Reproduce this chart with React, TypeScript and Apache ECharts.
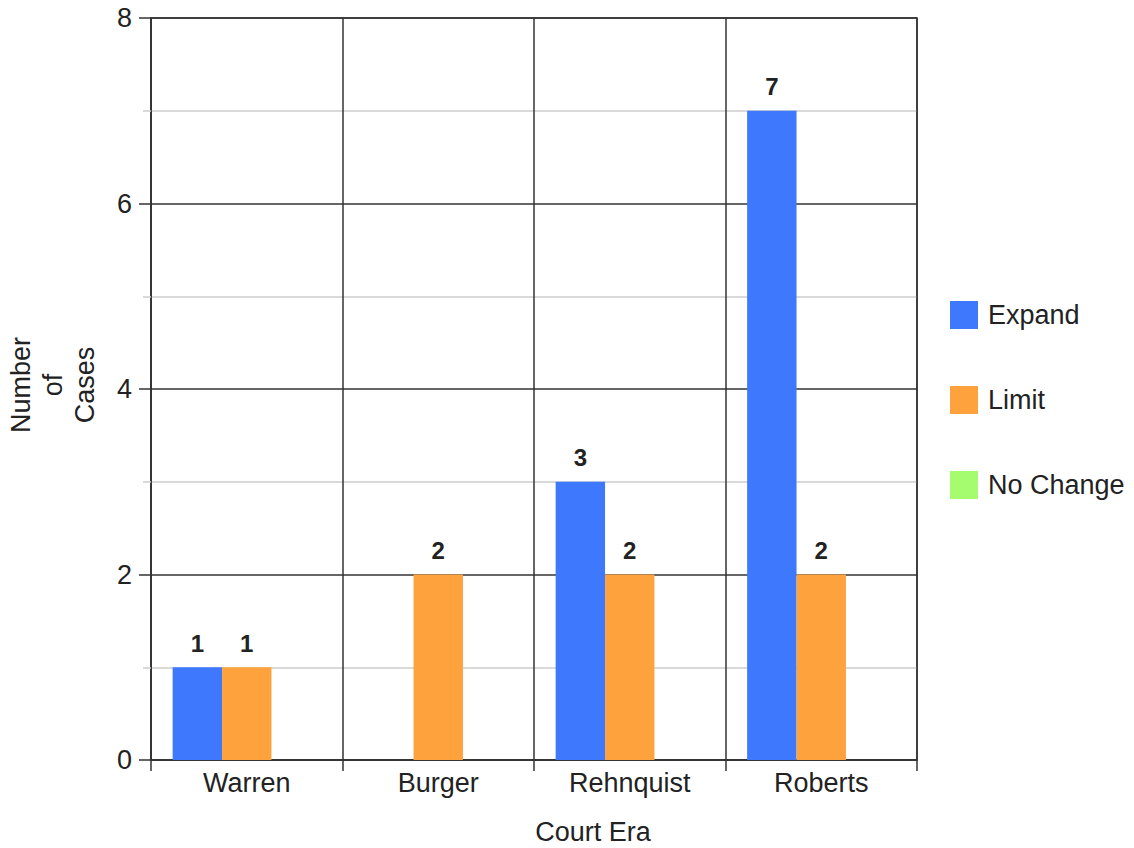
import React, { useEffect, useRef } from "react";
import * as echarts from "echarts";

const categories = ["Warren", "Burger", "Rehnquist", "Roberts"];
const expandValues = [1, 0, 3, 7];
const limitValues = [1, 2, 2, 2];
const noChangeValues = [0, 0, 0, 0];
const yTicks = [0, 2, 4, 6, 8];

const FONT = "Liberation Sans, Arial, sans-serif";
const FS = 27;

export default function App() {
  const ref = useRef<HTMLDivElement>(null);
  useEffect(() => {
    if (!ref.current) return;
    const chart = echarts.init(ref.current, undefined, { renderer: "svg" });
    const labelCfg = {
      show: true,
      position: "top",
      distance: 12,
      fontSize: 24,
      fontWeight: "bold",
      color: "#222",
      fontFamily: FONT,
      formatter: (p: any) => (p.value === 0 ? "" : String(p.value)),
    };
    chart.setOption({
      animation: false,
      textStyle: { fontFamily: FONT },
      grid: {
        left: 151,
        right: 217,
        top: 18,
        bottom: 88,
        show: true,
        borderColor: "#333",
        borderWidth: 1.5,
      },
      legend: {
        orient: "vertical",
        left: 950,
        top: 301,
        padding: 0,
        itemWidth: 28,
        itemHeight: 28,
        itemGap: 57,
        icon: "rect",
        textStyle: { fontSize: FS, color: "#222", fontFamily: FONT, padding: [0, 0, 0, 5] },
        data: ["Expand", "Limit", "No Change"],
      },
      xAxis: {
        type: "category",
        data: categories,
        axisLine: { lineStyle: { color: "#333", width: 1.5 } },
        axisTick: { show: true, length: 11, lineStyle: { color: "#333", width: 1.5 } },
        axisLabel: { fontSize: FS, color: "#222", margin: 9, fontFamily: FONT },
        splitLine: { show: true, lineStyle: { color: "#333", width: 1.5 } },
      },
      yAxis: {
        type: "value",
        min: yTicks[0],
        max: yTicks[yTicks.length - 1],
        interval: 2,
        axisLine: { show: true, lineStyle: { color: "#333", width: 1.5 } },
        axisTick: { show: true, length: 12, lineStyle: { color: "#333", width: 1.5 } },
        minorTick: { show: true, splitNumber: 2, length: 8, lineStyle: { color: "#ccc", width: 1.5 } },
        minorSplitLine: { show: true, lineStyle: { color: "#ccc", width: 1.5 } },
        splitLine: { show: true, lineStyle: { color: "#333", width: 1.5 } },
        axisLabel: { fontSize: FS, color: "#222", margin: 19, fontFamily: FONT },
      },
      graphic: [
        {
          type: "text",
          x: 53,
          y: 385,
          rotation: Math.PI / 2,
          style: {
            text: "Number\nof\nCases",
            fontSize: FS,
            lineHeight: 32,
            fontFamily: FONT,
            fill: "#222",
            align: "center",
            verticalAlign: "middle",
          },
        },
        {
          type: "text",
          x: 593,
          y: 832,
          style: {
            text: "Court Era",
            fontSize: FS,
            fontFamily: FONT,
            fill: "#222",
            align: "center",
            verticalAlign: "middle",
          },
        },
      ],
      series: [
        {
          name: "Expand",
          type: "bar",
          data: expandValues,
          itemStyle: { color: "#3e79fd" },
          barGap: "0%",
          barCategoryGap: "22.6%",
          label: labelCfg,
        },
        {
          name: "Limit",
          type: "bar",
          data: limitValues,
          itemStyle: { color: "#fda23d" },
          label: labelCfg,
        },
        {
          name: "No Change",
          type: "bar",
          data: noChangeValues,
          itemStyle: { color: "#a5fc6e" },
          label: labelCfg,
        },
      ],
    });
    return () => chart.dispose();
  }, []);
  return <div ref={ref} style={{ width: 1134, height: 848, position: "absolute", left: 0, top: 0 }} />;
}
